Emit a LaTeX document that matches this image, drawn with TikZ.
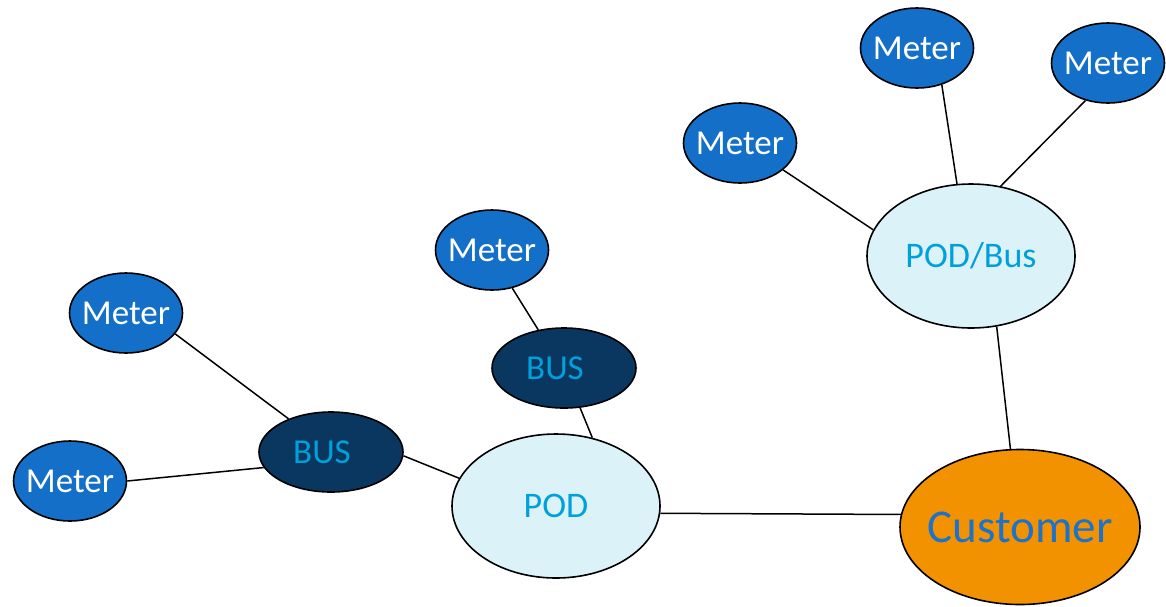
\documentclass[tikz,border=0pt]{standalone}
\usepackage{fontspec}
\setmainfont{Carlito}
\usepackage{tikz}
\usetikzlibrary{shapes.geometric}
\definecolor{meterblue}{RGB}{19,111,200}
\definecolor{busnavy}{RGB}{10,55,96}
\definecolor{podcyan}{RGB}{219,243,248}
\definecolor{labelcyan}{RGB}{0,160,220}
\definecolor{custorange}{RGB}{243,146,0}
\definecolor{custblue}{RGB}{30,115,200}
\tikzset{
    meter-node/.style = {draw=black, fill=meterblue, text=white, ellipse, line width=1.6pt, inner sep=-12pt, minimum width=113pt, minimum height=80pt, font=\fontsize{35}{35}\selectfont},
    bus-node/.style = {draw=black, fill=busnavy, text=labelcyan, ellipse, line width=1.6pt, inner sep=-12pt, minimum width=144pt, minimum height=80pt, font=\fontsize{35}{35}\selectfont},
    pod-node/.style = {draw=black, fill=podcyan, text=labelcyan, ellipse, line width=1.6pt, inner sep=-12pt, minimum width=208pt, minimum height=144pt, font=\fontsize{36}{36}\selectfont},
    customer-node/.style = {draw=black, fill=custorange, text=custblue, ellipse, line width=1.6pt, inner sep=-12pt, minimum width=240pt, minimum height=155pt, font=\fontsize{47}{47}\selectfont},
    link/.style = {draw=black, line width=1.5pt},
}
\begin{document}
\begin{tikzpicture}[x=1pt,y=-1pt]
\useasboundingbox (0,0) rectangle (1166,606);
% POD/Bus group
\node [meter-node] (meter-a) at (740,143) {Meter};
\node [meter-node] (meter-b) at (917,48) {Meter};
\node [meter-node] (meter-c) at (1108,63) {Meter};
\node [pod-node] (podbus) at (971,256) {POD/Bus};
% POD group
\node [meter-node] (meter-d) at (492,250) {Meter};
\node [bus-node] (bus-a) at (564,368) {\kern-18pt BUS};
\node [meter-node] (meter-e) at (126,313) {Meter};
\node [meter-node] (meter-f) at (70,481) {Meter};
\node [bus-node] (bus-b) at (331,452) {\kern-18pt BUS};
\node [pod-node] (pod) at (556,506) {POD};
\node [customer-node] (customer) at (1020,527) {Customer};
% connectors
\draw [link] (meter-a.-32) -- (podbus.165);
\draw [link] (meter-b.-56) -- (podbus.101);
\draw [link] (meter-c.-121) -- (podbus.67);
\draw [link] (podbus.-70) -- (customer.97);
\draw [link] (meter-d.-62) -- (bus-a.124);
\draw [link] (bus-a.-68) -- (pod.62);
\draw [link] (meter-e.-23) -- (bus-b.142);
\draw [link] (meter-f.0) -- (bus-b.-167);
\draw [link] (bus-b.-3) -- (pod.164);
\draw [link] (pod.-4) -- (customer.174);
\end{tikzpicture}
\end{document}
